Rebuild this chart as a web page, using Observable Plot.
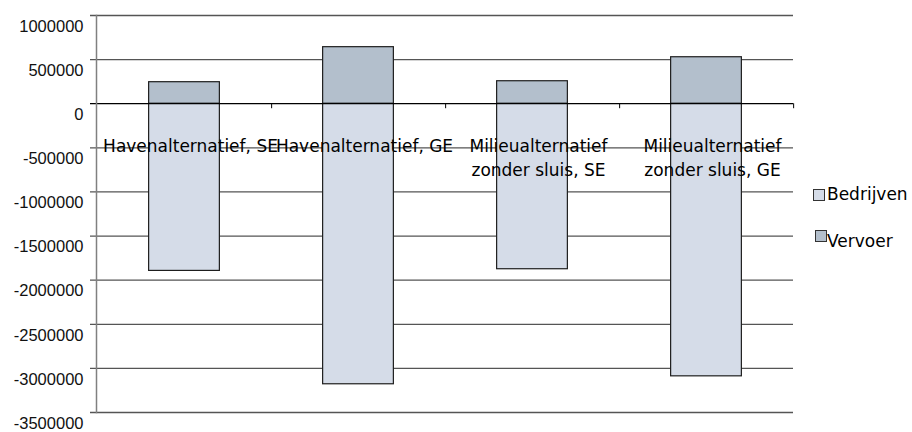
<!DOCTYPE html>
<html>
<head>
<meta charset="utf-8">
<script src="https://cdn.jsdelivr.net/npm/d3@7"></script>
<script src="https://cdn.jsdelivr.net/npm/@observablehq/plot@0.6"></script>
<style>
  body { margin: 0; background: #fff; }
  #chart { position: relative; width: 912px; height: 432px; }
  .lg { position: absolute; font: 17px "DejaVu Sans", sans-serif; line-height: 17px; color: #000; white-space: nowrap; }
  .sw { position: absolute; width: 12px; height: 12px; box-sizing: border-box; border: 1px solid #333; }
</style>
</head>
<body>
<div id="chart"></div>
<script>
// Alternatives (categories) and the two series per alternative
const categories = [
  "Havenalternatief, SE",
  "Havenalternatief, GE",
  "Milieualternatief\nzonder sluis, SE",
  "Milieualternatief\nzonder sluis, GE"
];
const series = ["Bedrijven", "Vervoer"];
const bedrijven = [-1895000, -3180000, -1876000, -3090000];
const vervoer = [244000, 641000, 255000, 527000];
const yTicks = [-3500000, -3000000, -2500000, -2000000, -1500000, -1000000, -500000, 0, 500000, 1000000];
const seriesColors = ["#d5dce8", "#b3bfcc"];

const rows = categories.flatMap((c, i) => [
  {category: c, series: series[0], value: bedrijven[i]},
  {category: c, series: series[1], value: vervoer[i]}
]);

const W = 912, H = 432;
const mL = 96, mR = 119, mT = 15, mB = 20;
const step = (W - mL - mR) / categories.length;
const barWidth = 71;
const barInset = (step - barWidth) / 2;

const chart = Plot.plot({
  width: W,
  height: H,
  marginLeft: mL,
  marginRight: mR,
  marginTop: mT,
  marginBottom: mB,
  style: {fontFamily: "'DejaVu Sans'", fontSize: "17px", background: "#fff", overflow: "visible"},
  x: {domain: categories, padding: 0, axis: null},
  y: {domain: [-3500000, 1000000], axis: null},
  color: {domain: series, range: seriesColors},
  marks: [
    // horizontal gridlines with small outward ticks
    Plot.ruleY(yTicks.filter(d => d !== 0), {stroke: "#555", strokeWidth: 1.3, insetLeft: -6}),
    // stacked bars: Vervoer above zero, Bedrijven below
    Plot.barY(rows, {
      x: "category", y: "value", fill: "series",
      stroke: "#1e1e1e", strokeWidth: 1.2,
      insetLeft: barInset, insetRight: barInset
    }),
    // category axis along zero with boundary ticks
    Plot.ruleY([0], {stroke: "#000", strokeWidth: 1.2, insetLeft: -6}),
    Plot.ruleX(categories, {x: d => d, y1: () => 0, y2: () => 0, insetBottom: -5, dx: step / 2, stroke: "#000"}),
    // value axis line
    Plot.frame({anchor: "left", stroke: "#808080", strokeWidth: 1.5}),
    // value labels
    Plot.text(yTicks, {
      y: d => d, frameAnchor: "left", textAnchor: "end", dx: -13, dy: 11,
      text: d => String(d), fontFamily: "'Liberation Sans'", fontSize: 16.5, fill: "#111"
    }),
    // category labels
    Plot.text(categories, {
      x: d => d, y: () => 0, text: d => d,
      lineAnchor: "top", lineHeight: 1.38, dy: 32, dx: 6, fill: "#000"
    })
  ]
});

const host = document.getElementById("chart");
host.appendChild(chart);

// legend on the right
const legend = [
  {name: series[0], color: seriesColors[0], sw: [813, 189], text: [827, 186]},
  {name: series[1], color: seriesColors[1], sw: [815, 230], text: [827, 233]}
];
for (const item of legend) {
  const sw = document.createElement("div");
  sw.className = "sw";
  sw.style.left = item.sw[0] + "px";
  sw.style.top = item.sw[1] + "px";
  sw.style.background = item.color;
  host.appendChild(sw);
  const t = document.createElement("div");
  t.className = "lg";
  t.style.left = item.text[0] + "px";
  t.style.top = item.text[1] + "px";
  t.textContent = item.name;
  host.appendChild(t);
}
</script>
</body>
</html>
